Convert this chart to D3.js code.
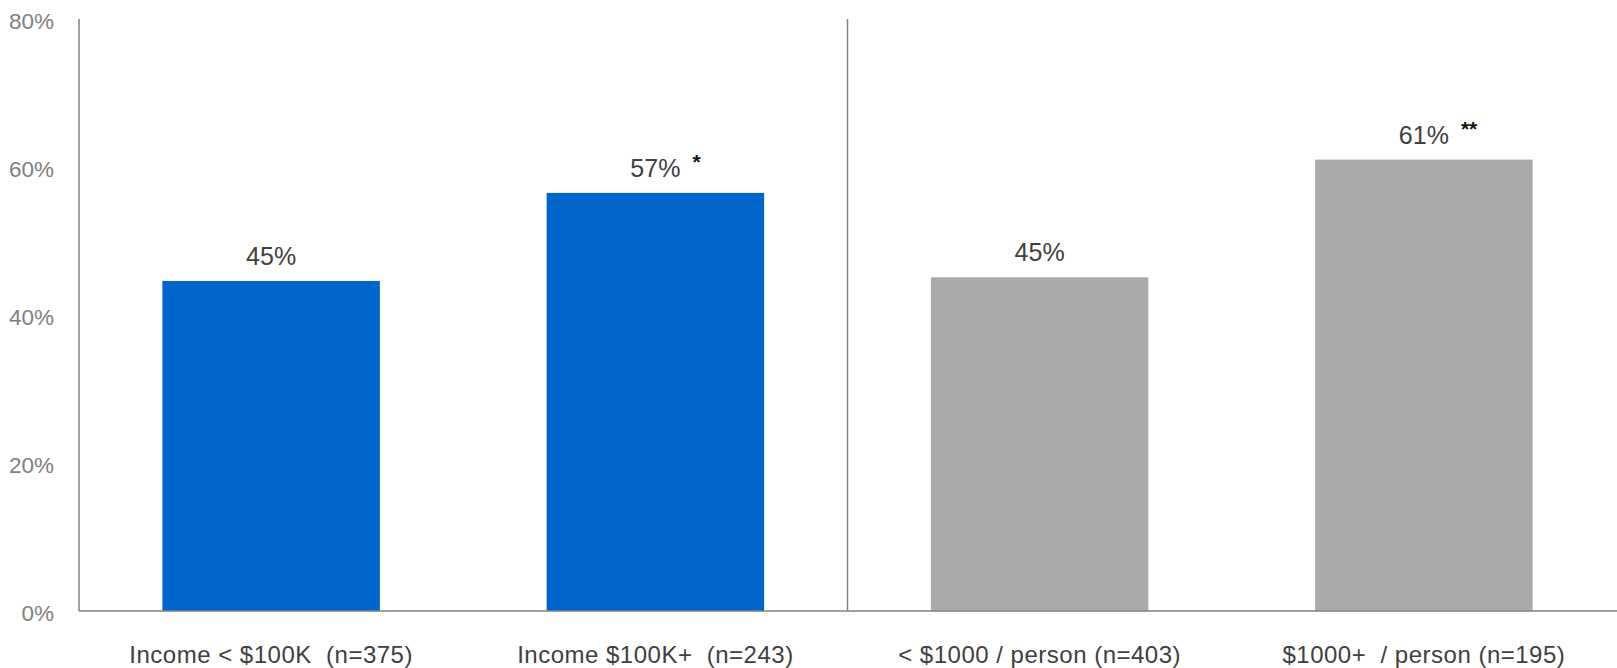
<!DOCTYPE html>
<html>
<head>
<meta charset="utf-8">
<script src="https://cdn.jsdelivr.net/npm/d3@7"></script>
<style>
  html, body { margin: 0; padding: 0; background: #fff; }
  svg { display: block; font-family: "Liberation Sans", Arial, sans-serif; }
</style>
</head>
<body>
<svg id="chart" width="1617" height="668"></svg>
<script>
const categories = ["Income < $100K  (n=375)", "Income $100K+  (n=243)", "< $1000 / person (n=403)", "$1000+  / person (n=195)"];
const values = [44.6, 56.5, 45.1, 61.0];
const valueLabels = ["45%", "57%", "45%", "61%"];
const significance = ["", "*", "", "**"];
const groups = ["income", "income", "spend", "spend"];
const yTicks = [0, 20, 40, 60, 80];
const yTickLabels = ["0%", "20%", "40%", "60%", "80%"];

const groupColor = { income: "#0066CC", spend: "#AAAAAA" };

const svg = d3.select("#chart");
const mLeft = 79, mRight = 1616, mTop = 19, mBottom = 611;

const x = d3.scaleBand().domain(categories).range([mLeft, mRight]).paddingInner(0.434).paddingOuter(0.217);
const y = d3.scaleLinear().domain([0, 80]).range([mBottom, mTop]);

// y axis tick labels
const yAxis = d3.axisLeft(y).tickValues(yTicks).tickFormat((d, i) => yTickLabels[i]).tickSize(0).tickPadding(25);
const yg = svg.append("g").attr("transform", `translate(${mLeft},0)`).call(yAxis);
yg.select(".domain").remove();
yg.selectAll("text").attr("font-size", 22.5).attr("fill", "#808080").attr("font-family", "Liberation Sans, Arial, sans-serif").attr("dy", "0.4em");

// bars
svg.append("g").selectAll("rect").data(categories).join("rect")
  .attr("x", d => x(d))
  .attr("width", x.bandwidth())
  .attr("y", (d, i) => y(values[i]))
  .attr("height", (d, i) => y(0) - y(values[i]))
  .attr("fill", (d, i) => groupColor[groups[i]]);

// axis lines
svg.append("line").attr("x1", mLeft).attr("x2", mLeft).attr("y1", y(80)).attr("y2", y(0))
  .attr("stroke", "#808080").attr("stroke-width", 1.5);
svg.append("line").attr("x1", mLeft).attr("x2", mRight + 1).attr("y1", y(0)).attr("y2", y(0))
  .attr("stroke", "#808080").attr("stroke-width", 1.5);
// group divider
const divX = (x(categories[1]) + x.bandwidth() + x(categories[2])) / 2;
svg.append("line").attr("x1", divX).attr("x2", divX).attr("y1", y(80)).attr("y2", y(0))
  .attr("stroke", "#808080").attr("stroke-width", 1.5);

// value labels
const vl = svg.append("g");
categories.forEach((c, i) => {
  const cx = x(c) + x.bandwidth() / 2;
  const by = y(values[i]) - 16;
  const t = vl.append("text").attr("x", cx).attr("y", by)
    .attr("text-anchor", "middle").attr("font-size", 25).attr("fill", "#404040")
    .text(valueLabels[i]);
  if (significance[i]) {
    const w = t.node().getComputedTextLength();
    vl.append("text").attr("x", cx + w / 2 + 12).attr("y", by - 8)
      .attr("font-size", 21).attr("font-weight", "bold").attr("fill", "#111")
      .text(significance[i]);
  }
});

// category labels
const xAxis = d3.axisBottom(x).tickSize(0).tickPadding(0);
const xg = svg.append("g").attr("transform", `translate(0,${mBottom})`).call(xAxis);
xg.select(".domain").remove();
xg.selectAll("text").attr("font-size", 24).attr("fill", "#404040")
  .attr("font-family", "Liberation Sans, Arial, sans-serif")
  .attr("y", 52).attr("dy", 0).attr("letter-spacing", 0.5)
  .style("white-space", "pre");
</script>
</body>
</html>
